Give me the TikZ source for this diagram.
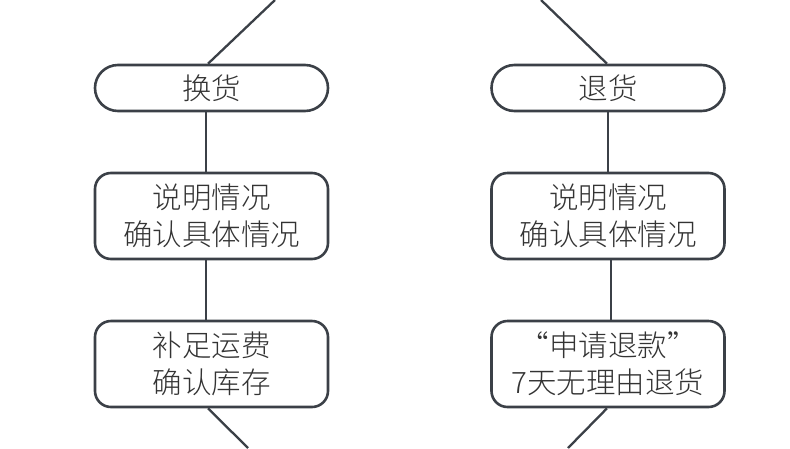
\documentclass[tikz,border=0pt]{standalone}
\usepackage{fontspec}
\newfontfamily\cjk{Noto Sans CJK SC Light}
\definecolor{lineclr}{HTML}{3B4047}
\definecolor{txtclr}{HTML}{333333}

\begin{document}
\begin{tikzpicture}[x=1pt,y=-1pt,
  pill/.style={draw=lineclr,line width=2.6pt,rounded corners=23pt,
    minimum width=233pt,minimum height=46pt,inner sep=0pt,
    text=txtclr,align=center,font=\cjk\fontsize{29.5}{37}\selectfont},
  card/.style={pill,rounded corners=16pt,minimum height=86pt},
  link/.style={draw=lineclr,line width=2.3pt}]
\useasboundingbox (0,0) rectangle (790,448) ;

\node [pill] (hh) at (211.5,88) {换货} ;
\node [card] (hq) at (211.5,216) {说明情况\\确认具体情况} ;
\node [card] (hk) at (211.5,364) {补足运费\\确认库存} ;
\node [pill] (th) at (608,88) {退货} ;
\node [card] (tq) at (608,216) {说明情况\\确认具体情况} ;
\node [card] (tk) at (608,364) {“申请退款”\\7天无理由退货} ;

\coordinate (hin) at (275,0) ;
\coordinate (tin) at (541,0) ;
\coordinate (hout) at (248,448) ;
\coordinate (tout) at (568,448) ;

\draw [link] (hin) -- ([xshift=-3.5pt]hh.north) ;
\draw [link] ([xshift=-5.5pt]hh.south) -- ([xshift=-5.5pt]hq.north) ;
\draw [link] ([xshift=-5.5pt]hq.south) -- ([xshift=-5.5pt]hk.north) ;
\draw [link] ([xshift=-3.5pt]hk.south) -- (hout) ;

\draw [link] (tin) -- ([xshift=-1pt]th.north) ;
\draw [link] (th.south) -- (tq.north) ;
\draw [link] ([xshift=3pt]tq.south) -- ([xshift=3pt]tk.north) ;
\draw [link] ([xshift=-1pt]tk.south) -- (tout) ;

\end{tikzpicture}
\end{document}
